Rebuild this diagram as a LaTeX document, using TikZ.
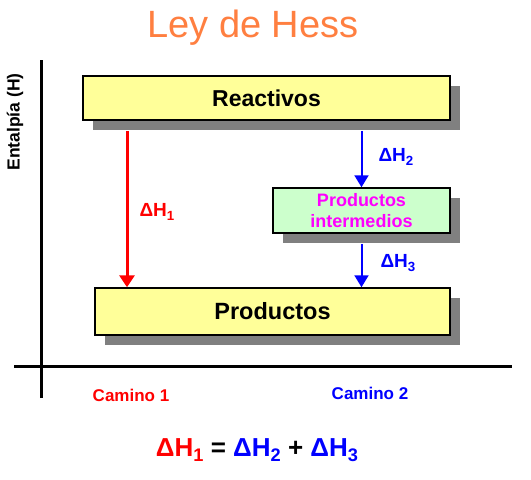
\documentclass[tikz,border=0pt]{standalone}
\usepackage{fontspec}
\setmainfont{Liberation Sans}
\usetikzlibrary{arrows.meta,shadows}

\definecolor{titleorange}{HTML}{FF7F40}
\definecolor{boxyellow}{HTML}{FFFF99}
\definecolor{boxgreen}{HTML}{CCFFCC}
\definecolor{shadowgray}{HTML}{808080}
\definecolor{pathred}{HTML}{FF0000}
\definecolor{pathblue}{HTML}{0000FF}
\definecolor{intermagenta}{HTML}{FF00FF}

\newcommand{\dH}[1]{ΔH\raisebox{-0.35ex}{\scalebox{0.7}{#1}}}

\tikzset{
  level/.style={draw=black, line width=1.5pt, inner sep=0pt,
    drop shadow={shadow xshift=10pt, shadow yshift=-10pt, fill=shadowgray, opacity=1}},
  axis/.style={line width=3pt, black},
  redstep/.style={pathred, line width=3pt, -{Triangle[width=15pt,length=12pt]}},
  bluestep/.style={pathblue, line width=2pt, -{Triangle[width=14pt,length=12pt]}}
}

\begin{document}
\begin{tikzpicture}[x=1pt,y=-1pt]
    \useasboundingbox[fill=white] (0,0) rectangle (531,480);

    % Title
    \node[text=titleorange, font=\fontsize{38}{40}\selectfont] (title) at (253,28) {Ley de Hess};

    % Axes
    \coordinate (ytop) at (41,60);
    \coordinate (ybot) at (41,398);
    \coordinate (xleft) at (14,366);
    \coordinate (xright) at (512,366);
    \draw[axis] (ybot) -- (ytop);
    \draw[axis] (xleft) -- (xright);
    \node[rotate=90, font=\bfseries\fontsize{17.5}{19}\selectfont] (ylabel) at (15,122) {Entalpía (H)};

    % Energy levels
    \node[level, fill=boxyellow, minimum width=367pt, minimum height=44pt,
          font=\bfseries\fontsize{23}{25}\selectfont] (reac) at (266.5,98) {Reactivos};
    \node[level, fill=boxgreen, minimum width=177pt, minimum height=45pt, align=center,
          text=intermagenta, font=\bfseries\fontsize{18}{21}\selectfont] (inter) at (361.5,210.5)
          {Productos\\intermedios};
    \node[level, fill=boxyellow, minimum width=355pt, minimum height=47pt,
          font=\bfseries\fontsize{23.5}{25}\selectfont] (prod) at (272.5,311.5) {Productos};

    % Path 1 (direct)
    \coordinate (path1) at (127,0);
    \draw[redstep] ([yshift=-10pt]reac.south -| path1) -- (prod.north -| path1);
    \node[pathred, anchor=west, font=\bfseries\fontsize{19}{20}\selectfont] (dh1) at (136,212) {\dH{1}};

    % Path 2 (through the intermediates)
    \draw[bluestep] ([yshift=-10pt]reac.south -| inter) -- (inter.north);
    \draw[bluestep] ([yshift=-10pt]inter.south) -- (inter.south |- prod.north);
    \node[pathblue, anchor=west, font=\bfseries\fontsize{19}{20}\selectfont] (dh2) at (375,157) {\dH{2}};
    \node[pathblue, anchor=west, font=\bfseries\fontsize{19}{20}\selectfont] (dh3) at (377,263) {\dH{3}};

    % Path labels
    \node[pathred, font=\bfseries\fontsize{17}{19}\selectfont] (camino1) at (131,395) {Camino 1};
    \node[pathblue, font=\bfseries\fontsize{17}{19}\selectfont] (camino2) at (370,393) {Camino 2};

    % Hess equation
    \node[font=\bfseries\fontsize{26}{28}\selectfont] (eq) at (257,450)
      {\textcolor{pathred}{\dH{1}} = \textcolor{pathblue}{\dH{2}} + \textcolor{pathblue}{\dH{3}}};
\end{tikzpicture}
\end{document}
